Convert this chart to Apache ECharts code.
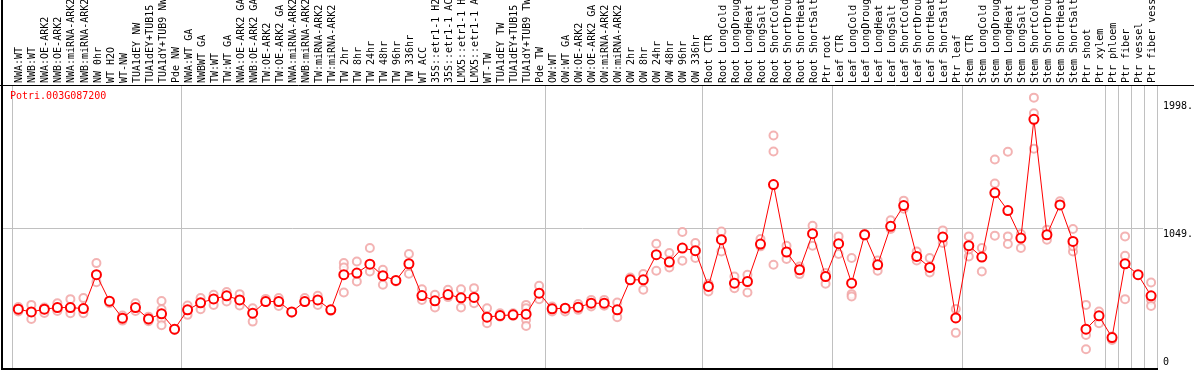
<!DOCTYPE html>
<html>
<head>
<meta charset="utf-8">
<script src="https://cdn.jsdelivr.net/npm/echarts@6/dist/echarts.min.js"></script>
<style>
html,body{margin:0;padding:0;background:#fff;}
#c{width:1194px;height:370px;}
</style>
</head>
<body>
<div id="c"></div>
<script>
const geneId = 'Potri.003G087200';

const categories = [
  'NWA:WT','NWB:WT','NWA:OE-ARK2','NWB:OE-ARK2','NWA:miRNA-ARK2','NWB:miRNA-ARK2','NW 0hr','WT H2O','WT-NW','TUA1dEY NW','TUA1dEY+TUB15 NW','TUA1dY+TUB9 NW','Pde NW',
  'NWA:WT GA','NWBWT GA','TW:WT','TW:WT GA','NWA:OE-ARK2 GA','NWB:OE-ARK2 GA','TW:OE-ARK2','TW:OE-ARK2 GA','NWA:miRNA-ARK2 GA','NWB:miRNA-ARK2 GA','TW:miRNA-ARK2','TW:miRNA-ARK2 GA',
  'TW 2hr','TW 8hr','TW 24hr','TW 48hr','TW 96hr','TW 336hr','WT ACC','35S::etr1-1 H2O','35S::etr1-1 ACC','LMX5::etr1-1 H2O','LMX5::etr1-1 ACC','WT-TW','TUA1dEY TW','TUA1dEY+TUB15 TW','TUA1dY+TUB9 TW','Pde TW',
  'OW:WT','OW:WT GA','OW:OE-ARK2','OW:OE-ARK2 GA','OW:miRNA-ARK2','OW:miRNA-ARK2 GA','OW 2hr','OW 8hr','OW 24hr','OW 48hr','OW 96hr','OW 336hr',
  'Root CTR','Root LongCold','Root LongDrought','Root LongHeat','Root LongSalt','Root ShortCold','Root ShortDrought','Root ShortHeat','Root ShortSalt','Ptr root',
  'Leaf CTR','Leaf LongCold','Leaf LongDrought','Leaf LongHeat','Leaf LongSalt','Leaf ShortCold','Leaf ShortDrought','Leaf ShortHeat','Leaf ShortSalt','Ptr leaf',
  'Stem CTR','Stem LongCold','Stem LongDrought','Stem LongHeat','Stem LongSalt','Stem ShortCold','Stem ShortDrought','Stem ShortHeat','Stem ShortSalt','Ptr shoot','Ptr xylem',
  'Ptr phloem','Ptr fiber','Ptr vessel','Ptr fiber vessel'
];

const means = [
  413,392,413,426,426,418,683,476,343,426,337,377,257,
  408,463,494,518,486,382,473,473,392,473,486,408,
  683,696,766,675,638,769,520,479,528,502,505,351,363,369,374,539,
  416,421,429,460,460,408,643,643,840,782,892,871,
  591,957,617,630,923,1389,861,722,1004,669,
  926,617,996,761,1062,1224,826,740,978,345,
  910,821,1324,1185,970,1899,996,1229,944,257,361,
  191,769,683,518
];

const replicates = [
  [430,395,415],[447,337,392],[426,383,413],[460,400,426],[492,382,426],[500,382,418],[774,625,683],[476,460],[363,324],[460,400],[355,319],[478,413,377,337,288],[257,250],
  [442,369],[500,413],[526,447],[547,473],[531,442],[421,316],[494,473],[500,439],[392,385],[500,473],[518,447],[408,400],
  [774,740,544],[787,630],[892,708],[722,604],[638,630],[845,690],[570,486],[526,426],[565,508],[570,426],[578,460],[421,304],[382,355],[382,360],[447,421,330,282],[596,492],
  [434,395],[421,395],[453,408],[486,434],[486,440],[465,351],[661,643],[688,565],[926,714],[853,740,792],[1018,792],[931,814],
  [612,552],[1022,865],[669,578],[683,544],[963,905],[1773,1648,761],[910,806],[748,688],[1067,910],[696,612],
  [983,845],[814,531,512],[1004,990],[795,714],[1109,1041],[1263,1200],[865,795],[814,701],[1030,931],[415,228],
  [983,826,880],[892,708],[1585,1397,989],[1645,983,923],[1002,892],[2069,1946,1669],[1036,957],[1258,1229],[1041,865,905],[447,212,100],[395,304],
  [173,200],[983,832,492],[683],[622,486,439]
];

const groupStarts = [0, 13, 41, 53, 63, 73, 84, 85, 86, 87, 88];
const yMarks = [0, 1049, 1998];
const yMarkLabels = ['0', '1049.', '1998.'];
const yMin = -47, yMax = 2168;

const repPoints = [];
replicates.forEach((arr, i) => arr.forEach(v => repPoints.push([i, v])));

const chart = echarts.init(document.getElementById('c'), null, {renderer: 'canvas'});
const mono = 'DejaVu Sans Mono';
const isGroup = (idx) => groupStarts.indexOf(idx) >= 0;

chart.setOption({
  animation: false,
  backgroundColor: '#ffffff',
  title: {
    text: geneId, left: 10, top: 91, padding: 0,
    textStyle: {color: '#ff0000', fontFamily: mono, fontSize: 10, fontWeight: 'normal'}
  },
  grid: {left: 11.8, right: 36.4, top: 85, bottom: 2, containLabel: false},
  xAxis: {
    type: 'category', position: 'top', data: categories, boundaryGap: true,
    axisLine: {show: false},
    axisTick: {show: true, length: 85, interval: isGroup, lineStyle: {color: '#c0c0c0', width: 1}},
    splitLine: {show: true, interval: isGroup, lineStyle: {color: '#c0c0c0', width: 1}},
    axisLabel: {show: false}
  },
  yAxis: {
    type: 'value', min: yMin, max: yMax,
    axisLine: {show: false}, axisTick: {show: false}, axisLabel: {show: false}, splitLine: {show: false}
  },
  series: [
    {
      type: 'scatter', data: repPoints, symbol: 'emptyCircle', symbolSize: 8, z: 2,
      itemStyle: {color: '#f0a0a0', borderWidth: 1.2}
    },
    {
      type: 'line', data: means, symbol: 'emptyCircle', symbolSize: 9, showAllSymbol: true, z: 3,
      lineStyle: {color: '#ff0000', width: 1},
      itemStyle: {color: '#ff0000', borderWidth: 1.4}
    }
  ]
});

const gfx = [];
// frame
gfx.push({type: 'line', shape: {x1: 0, y1: 85.5, x2: 1194, y2: 85.5}, style: {stroke: '#000', lineWidth: 1}, z: 10});
gfx.push({type: 'line', shape: {x1: 2, y1: 0, x2: 2, y2: 370}, style: {stroke: '#000', lineWidth: 2}, z: 10});
gfx.push({type: 'line', shape: {x1: 1, y1: 369, x2: 1158, y2: 369}, style: {stroke: '#000', lineWidth: 2}, z: 10});
// category labels, rotated, reading bottom-to-top from just above the top axis
categories.forEach((name, i) => {
  const px = chart.convertToPixel({xAxisIndex: 0}, i);
  gfx.push({
    type: 'text', x: px + 1.5, y: 83, rotation: Math.PI / 2, z: 10,
    style: {text: name, font: '10px "DejaVu Sans Mono"', fill: '#000', textAlign: 'left', textVerticalAlign: 'middle'}
  });
});
yMarks.forEach((v, i) => {
  const py = chart.convertToPixel({yAxisIndex: 0}, v);
  if (v === 1049) {
    const ly = Math.round(py) + 0.5;
    gfx.push({type: 'line', shape: {x1: 2, y1: ly, x2: 1163, y2: ly}, style: {stroke: '#c0c0c0', lineWidth: 1}, z: 0});
    gfx.push({type: 'text', x: 1163, y: py + 1, style: {text: yMarkLabels[i], font: '10px "DejaVu Sans Mono"', fill: '#000', textVerticalAlign: 'top', textAlign: 'left'}, z: 10});
  } else {
    gfx.push({type: 'text', x: 1163, y: py, style: {text: yMarkLabels[i], font: '10px "DejaVu Sans Mono"', fill: '#000', textVerticalAlign: 'middle', textAlign: 'left'}, z: 10});
  }
});
chart.setOption({graphic: gfx});
</script>
</body>
</html>
